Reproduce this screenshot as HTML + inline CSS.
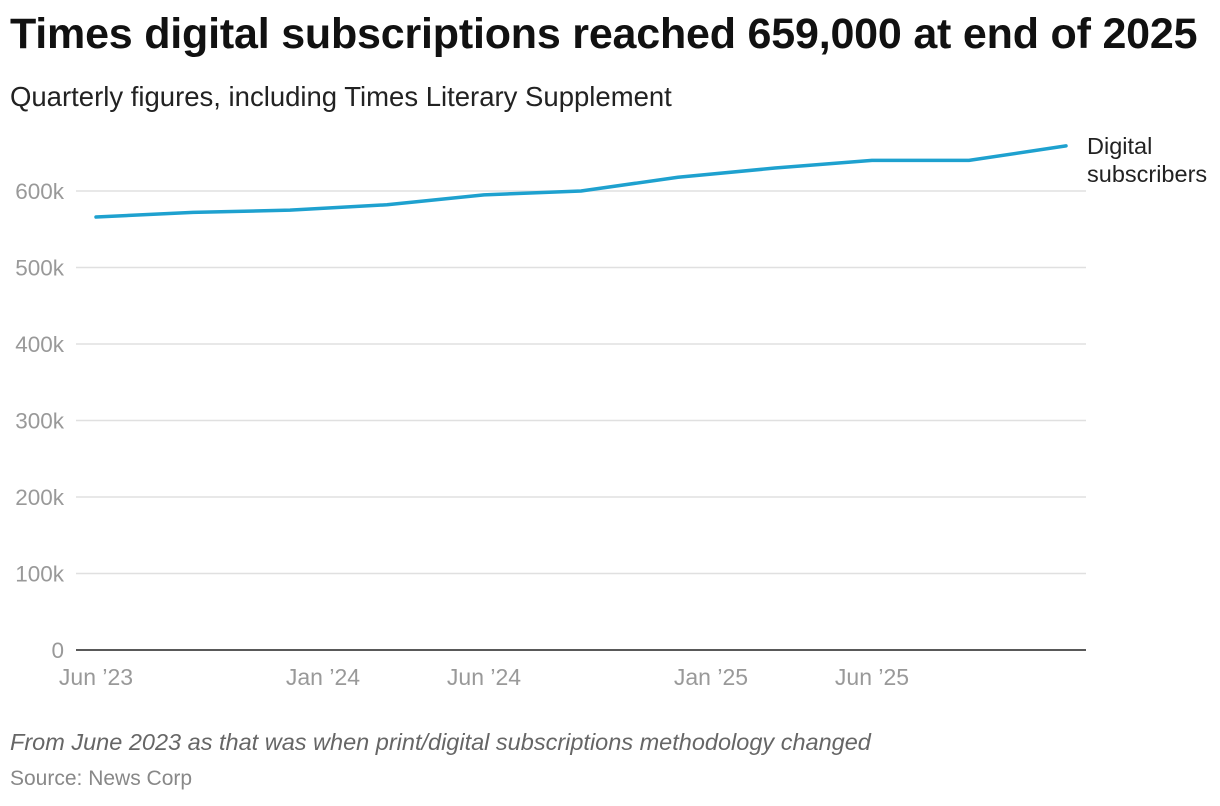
<!DOCTYPE html>
<html><head><meta charset="utf-8">
<style>
body{margin:0;background:#fff;font-family:"Liberation Sans",Arial,sans-serif;}
#wrap{position:relative;width:1220px;height:806px;overflow:hidden;}
h1{position:absolute;left:10px;top:10px;margin:0;font-size:43px;font-weight:bold;color:#111;letter-spacing:-0.2px;white-space:nowrap;}
.sub{position:absolute;left:10px;top:81px;font-size:27.5px;color:#222;white-space:nowrap;}
.note{position:absolute;left:10px;top:729px;font-size:23.5px;font-style:italic;color:#666;white-space:nowrap;}
.src{position:absolute;left:10px;top:767px;font-size:21px;color:#888;}
svg{position:absolute;left:0;top:0;}
</style></head><body>
<div id="wrap">
<h1>Times digital subscriptions reached 659,000 at end of 2025</h1>
<div class="sub">Quarterly figures, including Times Literary Supplement</div>
<svg id="chart" width="1220" height="806"></svg>
<div class="note">From June 2023 as that was when print/digital subscriptions methodology changed</div>
<div class="src">Source: News Corp</div>
</div>
<script>
const quarters=["Jun 2023","Sep 2023","Dec 2023","Mar 2024","Jun 2024","Sep 2024","Dec 2024","Mar 2025","Jun 2025","Sep 2025","Dec 2025"];
const subscribers=[566000,572000,575000,582000,595000,600000,618000,630000,640000,640000,659000];
const yTicks=[0,100000,200000,300000,400000,500000,600000];
const yTickLabels=["0","100k","200k","300k","400k","500k","600k"];
const xTickPos=[0,2.34,4,6.34,8];
const xTickLabels=["Jun \u201923","Jan \u201924","Jun \u201924","Jan \u201925","Jun \u201925"];

const svg=document.getElementById('chart');
const NS='http://www.w3.org/2000/svg';
const x=i=>96+i*97;
const y=v=>650-v*0.000765;
function mk(t,a){const e=document.createElementNS(NS,t);for(const k in a)e.setAttribute(k,a[k]);svg.appendChild(e);return e;}
yTicks.forEach((v,i)=>{
  if(v>0){const g=mk('line',{x1:76,x2:1086,y1:y(v),y2:y(v),stroke:'#e0e0e0','stroke-width':1.5});
  
  }
  const t=mk('text',{x:64,y:y(v)+8,'text-anchor':'end','font-size':22.5,fill:'#999','font-family':'Liberation Sans, sans-serif'});
  t.textContent=yTickLabels[i];
  
  
});
const ax=mk('line',{x1:76,x2:1086,y1:650,y2:650,stroke:'#222','stroke-width':1.5});


xTickPos.forEach((p,i)=>{
  const t=mk('text',{x:x(p),y:685,'text-anchor':'middle','font-size':23,fill:'#999','font-family':'Liberation Sans, sans-serif'});
  t.textContent=xTickLabels[i];
  
  
});
const pts=subscribers.map((v,i)=>x(i)+','+y(v)).join(' ');
const line=mk('polyline',{points:pts,fill:'none',stroke:'#1ea1cf','stroke-width':3.5,'stroke-linejoin':'round','stroke-linecap':'round'});


const last=subscribers.length-1;
const l1=mk('text',{x:1087,y:y(subscribers[last])+8,'font-size':23.5,fill:'#222','font-family':'Liberation Sans, sans-serif'});
l1.textContent='Digital';


const l2=mk('text',{x:1087,y:y(subscribers[last])+36,'font-size':23.5,fill:'#222','font-family':'Liberation Sans, sans-serif'});
l2.textContent='subscribers';


</script>
</body></html>
